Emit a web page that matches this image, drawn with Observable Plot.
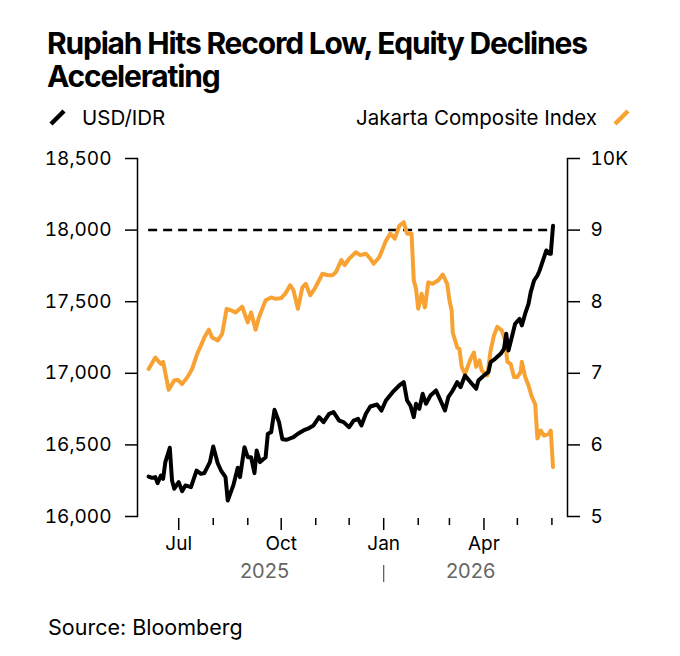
<!DOCTYPE html>
<html>
<head>
<meta charset="utf-8">
<script src="https://cdn.jsdelivr.net/npm/d3@7"></script>
<script src="https://cdn.jsdelivr.net/npm/@observablehq/plot@0.6"></script>
<style>
  html, body { margin: 0; padding: 0; background: #fff; }
  #wrap { position: relative; width: 680px; height: 656px; font-family: Inter, "Noto Sans", sans-serif; color: #000; }
  .title { position: absolute; left: 47px; top: 27px; width: 580px; font-weight: 700; font-size: 30px; line-height: 33px; letter-spacing: -1.2px; }
  .legend { position: absolute; top: 105px; left: 0; width: 680px; height: 26px; font-size: 20.5px; }
  .leg-left { position: absolute; left: 49px; top: 0; display: flex; align-items: center; gap: 16px; }
  .leg-right { position: absolute; right: 50px; top: 0; display: flex; align-items: center; gap: 16px; }
  .source { position: absolute; left: 48px; top: 614px; font-size: 21.5px; }
  #chart { position: absolute; left: 0; top: 140px; }
</style>
</head>
<body>
<div id="wrap">
  <div class="title">Rupiah Hits Record Low, Equity Declines Accelerating</div>
  <div class="legend">
    <div class="leg-left"><svg width="17" height="17"><line x1="2" y1="15" x2="15" y2="2" stroke="#000" stroke-width="4.5"/></svg><span>USD/IDR</span></div>
    <div class="leg-right"><span>Jakarta Composite Index</span><svg width="17" height="17"><line x1="2" y1="15" x2="15" y2="2" stroke="#f7a233" stroke-width="4.5"/></svg></div>
  </div>
  <div id="chart"></div>
  <div class="source">Source: Bloomberg</div>
</div>
<script>
// ---- data ----
const usdDates = ["2025-06-04","2025-06-07","2025-06-10","2025-06-12","2025-06-15","2025-06-17","2025-06-19","2025-06-23","2025-06-25","2025-06-27",
"2025-07-01","2025-07-04","2025-07-07","2025-07-12","2025-07-17","2025-07-21","2025-07-24","2025-07-29","2025-08-01","2025-08-05",
"2025-08-08","2025-08-12","2025-08-14","2025-08-19","2025-08-23","2025-08-25","2025-08-29","2025-09-01","2025-09-04","2025-09-07",
"2025-09-09","2025-09-12","2025-09-17","2025-09-19","2025-09-22","2025-09-25","2025-09-29","2025-10-02","2025-10-06","2025-10-12",
"2025-10-16","2025-10-21","2025-10-25","2025-10-30","2025-11-04","2025-11-08","2025-11-13","2025-11-17","2025-11-22","2025-11-26",
"2025-12-01","2025-12-05","2025-12-09","2025-12-12","2025-12-16","2025-12-20","2025-12-26","2025-12-30","2026-01-03","2026-01-09",
"2026-01-15","2026-01-19","2026-01-22","2026-01-25","2026-01-28","2026-01-30","2026-02-02","2026-02-05","2026-02-08","2026-02-12",
"2026-02-17","2026-02-21","2026-02-25","2026-02-28","2026-03-04","2026-03-08","2026-03-11","2026-03-15","2026-03-20","2026-03-25",
"2026-03-27","2026-04-01","2026-04-05","2026-04-07","2026-04-11","2026-04-16","2026-04-19","2026-04-21","2026-04-23","2026-04-26",
"2026-04-29","2026-05-03","2026-05-05","2026-05-08","2026-05-11","2026-05-13","2026-05-16","2026-05-19","2026-05-21","2026-05-24",
"2026-05-27","2026-05-30","2026-05-31","2026-06-02"];
const usdValues = [16279,16270,16275,16233,16286,16263,16380,16480,16251,16194,
16240,16177,16217,16205,16321,16298,16303,16380,16489,16372,
16321,16275,16112,16217,16340,16275,16484,16414,16414,16303,
16461,16380,16414,16578,16589,16745,16660,16540,16536,16554,
16578,16601,16613,16636,16694,16659,16717,16729,16670,16659,
16624,16670,16682,16636,16717,16768,16782,16740,16810,16868,
16915,16938,16810,16775,16694,16787,16752,16857,16787,16845,
16880,16810,16740,16833,16880,16938,16903,16985,16938,16892,
16950,16985,17008,17078,17101,17136,17171,17276,17159,17252,
17346,17380,17334,17416,17485,17567,17648,17683,17718,17788,
17858,17834,17834,18030];

const jciDates = ["2025-06-04","2025-06-10","2025-06-15","2025-06-17","2025-06-22","2025-06-27","2025-06-30","2025-07-04","2025-07-09","2025-07-13",
"2025-07-18","2025-07-21","2025-07-24","2025-07-28","2025-07-31","2025-08-05","2025-08-09","2025-08-13","2025-08-17","2025-08-21",
"2025-08-27","2025-09-01","2025-09-04","2025-09-08","2025-09-11","2025-09-17","2025-09-22","2025-09-26","2025-10-01","2025-10-05",
"2025-10-09","2025-10-12","2025-10-16","2025-10-20","2025-10-23","2025-10-27","2025-10-31","2025-11-04","2025-11-07","2025-11-12",
"2025-11-16","2025-11-19","2025-11-24","2025-11-27","2025-12-01","2025-12-07","2025-12-11","2025-12-16","2025-12-20","2025-12-23",
"2025-12-28","2026-01-03","2026-01-07","2026-01-11","2026-01-15","2026-01-19","2026-01-22","2026-01-26","2026-01-28","2026-01-30",
"2026-02-01","2026-02-04","2026-02-07","2026-02-10","2026-02-14","2026-02-19","2026-02-23","2026-02-27","2026-03-01","2026-03-03",
"2026-03-04","2026-03-08","2026-03-10","2026-03-12","2026-03-15","2026-03-20","2026-03-23","2026-03-25","2026-03-28","2026-03-30",
"2026-04-04","2026-04-07","2026-04-10","2026-04-13","2026-04-17","2026-04-20","2026-04-22","2026-04-25","2026-04-28","2026-05-01",
"2026-05-04","2026-05-05","2026-05-08","2026-05-11","2026-05-14","2026-05-17","2026-05-19","2026-05-22","2026-05-25","2026-05-29",
"2026-05-31","2026-06-02"];
const jciValues = [7.06,7.22,7.13,7.16,6.77,6.90,6.91,6.85,6.95,7.06,
7.29,7.39,7.50,7.61,7.50,7.46,7.55,7.90,7.88,7.85,
7.93,7.71,7.85,7.61,7.78,8.02,8.06,8.04,8.05,8.12,
8.23,8.16,7.90,8.20,8.25,8.09,8.18,8.30,8.39,8.37,
8.37,8.41,8.58,8.51,8.60,8.69,8.65,8.67,8.60,8.53,
8.62,8.85,8.95,8.88,9.06,9.11,8.95,8.95,8.30,8.18,
7.90,8.11,7.92,8.27,8.25,8.30,8.38,8.25,8.02,7.88,
7.57,7.36,7.34,7.09,6.99,7.20,7.29,7.09,7.18,7.04,
6.97,7.32,7.53,7.65,7.60,7.46,7.16,7.13,6.95,6.95,
7.02,7.16,6.95,6.83,6.67,6.57,6.09,6.20,6.13,6.15,
6.20,5.69];

const leftTicks = [16000, 16500, 17000, 17500, 18000, 18500];
const rightTicks = [5, 6, 7, 8, 9, 10];
const rightTickLabels = ["5", "6", "7", "8", "9", "10K"];
const majorMonthTicks = ["2025-07-01", "2025-10-01", "2026-01-01", "2026-04-01"];
const majorMonthLabels = ["Jul", "Oct", "Jan", "Apr"];
const minorMonthTicks = ["2025-08-01","2025-09-01","2025-11-01","2025-12-01","2026-02-01","2026-03-01","2026-05-01","2026-06-01"];
const yearLabels = ["2025", "2026"];
const yearLabelDates = ["2025-09-16", "2026-03-20"];
const yearBoundary = ["2026-01-01"];
const recordLevel = 18000;
const xDomain = ["2025-05-25", "2026-06-15"];
const leftDomain = [16000, 18500];
const rightDomain = [5, 10];

// ---- build ----
const parse = d3.utcParse("%Y-%m-%d");
const usd = usdDates.map((d, i) => ({date: parse(d), value: usdValues[i]}));
const jci = jciDates.map((d, i) => ({date: parse(d), value: jciValues[i]}));
const toLeft = v => leftDomain[0] + (v - rightDomain[0]) * (leftDomain[1] - leftDomain[0]) / (rightDomain[1] - rightDomain[0]);
const rightTickPos = rightTicks.map(toLeft);
const rightLabelMap = new Map(rightTickPos.map((p, i) => [p, rightTickLabels[i]]));
const majors = majorMonthTicks.map(parse);
const majorLabelMap = new Map(majors.map((d, i) => [+d, majorMonthLabels[i]]));
const years = yearLabels.map((t, i) => ({label: t, date: parse(yearLabelDates[i])}));
const orange = "#f7a233";

const chart = Plot.plot({
  width: 680,
  height: 460,
  marginTop: 18,
  marginBottom: 84,
  marginLeft: 137,
  marginRight: 113,
  style: {fontFamily: "Inter, 'Noto Sans', sans-serif", fontSize: "19px", color: "#000", background: "#fff", overflow: "visible"},
  x: {type: "utc", domain: xDomain.map(parse)},
  y: {domain: leftDomain},
  marks: [
    Plot.frame({anchor: "left", strokeWidth: 1.5}),
    Plot.frame({anchor: "right", strokeWidth: 1.5}),
    Plot.axisY({anchor: "left", ticks: leftTicks, tickSize: 12, tickPadding: 14, tickFormat: d3.format(","), label: null, strokeWidth: 1.5}),
    Plot.axisY({anchor: "right", ticks: rightTickPos, tickSize: 12, tickPadding: 11, tickFormat: v => rightLabelMap.get(v), label: null, strokeWidth: 1.5}),
    Plot.axisX({ticks: minorMonthTicks.map(parse), tickSize: 7, tickFormat: () => "", label: null, dy: 2, strokeWidth: 1.5}),
    Plot.axisX({ticks: majors, tickSize: 12, tickPadding: 6, tickFormat: d => majorLabelMap.get(+d), label: null, dy: 2, strokeWidth: 1.5}),
    Plot.axisX({ticks: yearBoundary.map(parse), tickSize: 17, tickFormat: () => "", label: null, dy: 49, stroke: "#555", strokeWidth: 1.2}),
    Plot.text(years, {x: "date", text: "label", frameAnchor: "bottom", dy: 61, fill: "#666", fontSize: 20, letterSpacing: 2.2}),
    Plot.ruleY([recordLevel], {x1: usd[0].date, x2: usd[usd.length - 1].date, stroke: "#000", strokeWidth: 2.5, strokeDasharray: "9,6"}),
    Plot.line(jci, {x: "date", y: d => toLeft(d.value), stroke: orange, strokeWidth: 4, strokeLinejoin: "round"}),
    Plot.line(usd, {x: "date", y: "value", stroke: "#000", strokeWidth: 4, strokeLinejoin: "round"})
  ]
});
document.getElementById("chart").appendChild(chart);
</script>
</body>
</html>
